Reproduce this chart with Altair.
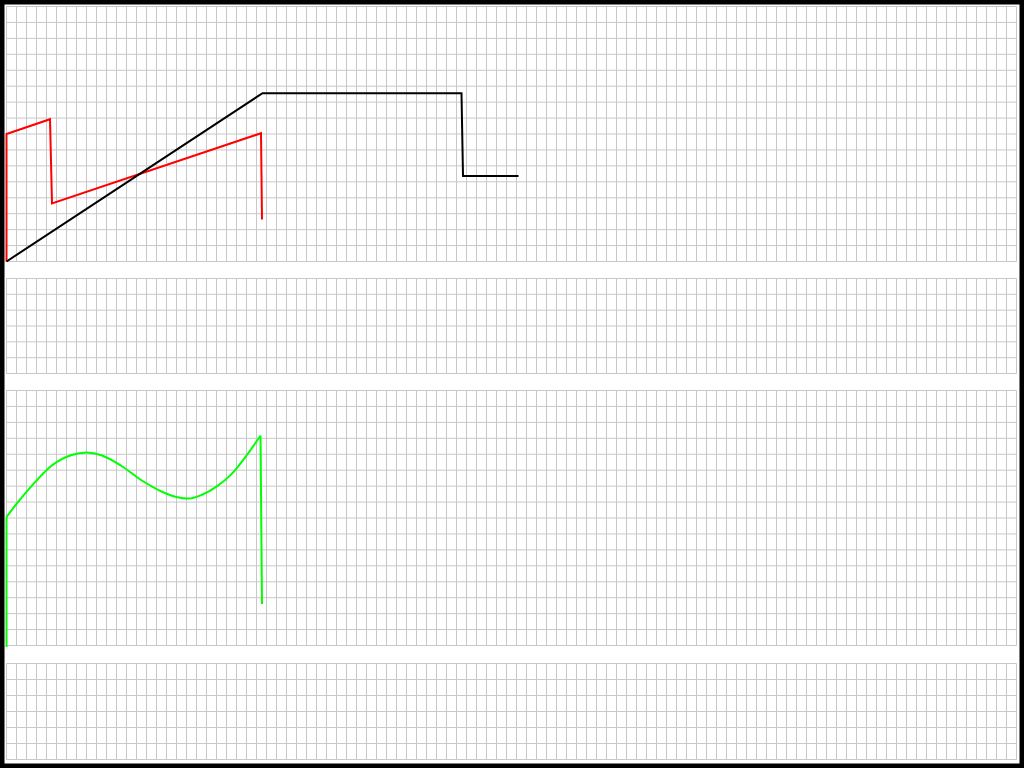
import altair as alt
import pandas as pd

# Sample index (time) and normalised amplitude (0..1 of panel height)
black_t = [0, 256, 455, 456.5, 512]
black_v = [0.0, 0.66, 0.66, 0.335, 0.335]

red_t = [0, 0, 43.5, 45.5, 254.5, 255.5]
red_v = [0.0, 0.5, 0.558, 0.228, 0.503, 0.165]

green_t = [0, 0, 10, 25, 45, 65, 80, 95, 115, 135, 155, 170, 182, 195, 210,
           225, 240, 254, 255.5]
green_v = [-0.006, 0.504, 0.555, 0.625, 0.705, 0.747, 0.757, 0.746, 0.704,
           0.648, 0.604, 0.582, 0.576, 0.590, 0.623, 0.672, 0.745, 0.823, 0.163]

# panels: (pixel range bottom->top, number of horizontal divisions)
panels = [([261.5, 6.5], 16), ([373.5, 278.5], 6), ([645.5, 390.5], 16), ([759.5, 663.5], 6)]

GRID = "#c8c8c8"
T_MAX = 1010
xscale = alt.Scale(domain=[0, T_MAX], range=[6.5, 1016.5])

layers = []
for rng, ndiv in panels:
    ys = alt.Scale(domain=[0, 1], range=rng)
    vdf = pd.DataFrame({"t": list(range(0, T_MAX + 1, 10))})
    vdf["lo"] = 0.0
    vdf["hi"] = 1.0
    layers.append(
        alt.Chart(vdf).mark_rule(color=GRID, strokeWidth=1).encode(
            x=alt.X("t:Q", scale=xscale, axis=None),
            y=alt.Y("lo:Q", scale=ys, axis=None),
            y2="hi:Q",
        )
    )
    hdf = pd.DataFrame({"v": [k / ndiv for k in range(ndiv + 1)]})
    hdf["x0"] = 0
    hdf["x1"] = T_MAX
    layers.append(
        alt.Chart(hdf).mark_rule(color=GRID, strokeWidth=1).encode(
            x=alt.X("x0:Q", scale=xscale, axis=None),
            x2="x1:Q",
            y=alt.Y("v:Q", scale=ys, axis=None),
        )
    )


def trace(ts, vs, color, rng, interp="linear"):
    df = pd.DataFrame({"t": ts, "v": vs, "i": list(range(len(ts)))})
    ys = alt.Scale(domain=[0, 1], range=rng)
    return alt.Chart(df).mark_line(color=color, strokeWidth=2, interpolate=interp).encode(
        x=alt.X("t:Q", scale=xscale, axis=None),
        y=alt.Y("v:Q", scale=ys, axis=None),
        order=alt.Order("i:Q"),
    )


layers.append(trace(red_t, red_v, "#ff0000", panels[0][0]))
layers.append(trace(black_t, black_v, "#000000", panels[0][0]))
# green: vertical rise, smooth curve, final drop
layers.append(trace(green_t[:2], green_v[:2], "#00ff00", panels[2][0]))
layers.append(trace(green_t[1:-1], green_v[1:-1], "#00ff00", panels[2][0], "monotone"))
layers.append(trace(green_t[-2:], green_v[-2:], "#00ff00", panels[2][0]))

frame = alt.Chart(pd.DataFrame({"a": [0]})).mark_rect(
    fillOpacity=0, stroke="black", strokeWidth=9
).encode(
    x=alt.value(0), x2=alt.value(1024), y=alt.value(0), y2=alt.value(768)
)
layers.append(frame)

chart = alt.layer(*layers).resolve_scale(y="independent").properties(
    width=1024,
    height=768,
    autosize=alt.AutoSizeParams(type="none"),
    padding=0,
    background="white",
).configure_view(strokeWidth=0)

chart.save("out.html", embed_options={"renderer": "svg", "actions": False})
